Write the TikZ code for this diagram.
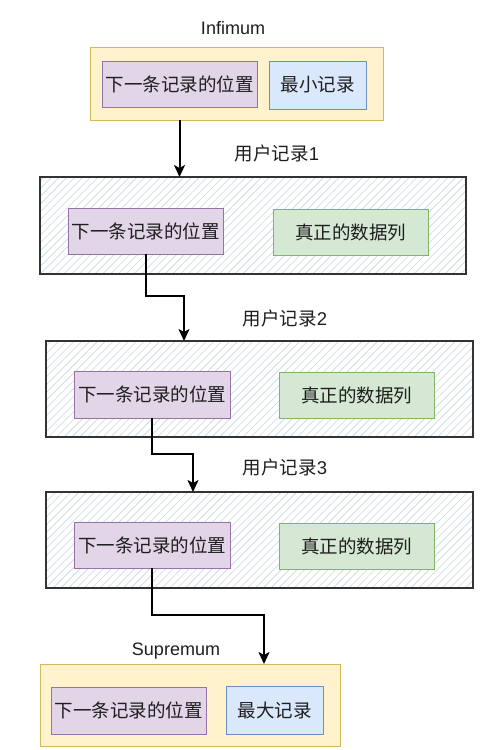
\documentclass[tikz,border=0pt]{standalone}
\usepackage{fontspec}
\setmainfont{Noto Sans CJK SC}
\newfontfamily\latin{Liberation Sans}
\usetikzlibrary{arrows.meta,patterns.meta}

\definecolor{yfill}{HTML}{FFF2CC}
\definecolor{ydraw}{HTML}{D6B656}
\definecolor{pfill}{HTML}{E1D5E7}
\definecolor{pdraw}{HTML}{9673A6}
\definecolor{bfill}{HTML}{DAE8FC}
\definecolor{bdraw}{HTML}{6C8EBF}
\definecolor{gfill}{HTML}{D5E8D4}
\definecolor{gdraw}{HTML}{82B366}
\definecolor{hatchc}{HTML}{C5D8E6}
\definecolor{txt}{HTML}{1E1E1E}

\begin{document}
\begin{tikzpicture}[x=1pt,y=-1pt,
  every node/.style={inner sep=0pt,outer sep=0pt,text=txt,
    font=\fontsize{18.5}{21}\selectfont},
  outerbox/.style={draw=ydraw,fill=yfill,line width=1pt},
  recbox/.style={draw=black!80,line width=1.1pt,
    pattern={Lines[angle=45,distance=5.5pt,line width=0.6pt]},pattern color=hatchc},
  ptrbox/.style={draw=pdraw,fill=pfill,line width=0.8pt},
  minbox/.style={draw=bdraw,fill=bfill,line width=0.8pt},
  databox/.style={draw=gdraw,fill=gfill,line width=0.8pt},
  link/.style={draw=black,line width=2pt,-{Stealth[length=12pt,width=11pt,inset=3pt]}}]

  \useasboundingbox[fill=white] (0,0) rectangle (481,750);

  %% Infimum
  \node[outerbox,minimum width=293pt,minimum height=73pt] (inf) at (236.5,83.5) {};
  \node[ptrbox,minimum width=155pt,minimum height=46pt] (pos0) at (179.5,84) {下一条记录的位置};
  \node[minbox,minimum width=97pt,minimum height=48pt] (min) at (317.5,85) {最小记录};
  \node[font=\latin\fontsize{18}{21}\selectfont] (inflabel) at (233,28) {Infimum};

  %% user records
  \node[recbox,minimum width=426pt,minimum height=97pt] (rec1) at (253,225.5) {};
  \node[ptrbox,minimum width=155pt,minimum height=46pt] (pos1) at (145.5,231) {下一条记录的位置};
  \node[databox,minimum width=155pt,minimum height=46pt] (dat1) at (350.5,232) {真正的数据列};
  \node (lab1) at (277,153) {用户记录{\latin 1}};

  \node[recbox,minimum width=427pt,minimum height=96pt] (rec2) at (259.5,389) {};
  \node[ptrbox,minimum width=156pt,minimum height=47pt] (pos2) at (152,394.5) {下一条记录的位置};
  \node[databox,minimum width=155pt,minimum height=46pt] (dat2) at (356.5,395) {真正的数据列};
  \node (lab2) at (285,318) {用户记录{\latin 2}};

  \node[recbox,minimum width=427pt,minimum height=96pt] (rec3) at (259.5,540) {};
  \node[ptrbox,minimum width=156pt,minimum height=46pt] (pos3) at (152,545) {下一条记录的位置};
  \node[databox,minimum width=155pt,minimum height=46pt] (dat3) at (356.5,546) {真正的数据列};
  \node (lab3) at (285,467) {用户记录{\latin 3}};

  %% Supremum
  \node[outerbox,minimum width=300pt,minimum height=82pt] (sup) at (190,705) {};
  \node[ptrbox,minimum width=155pt,minimum height=47pt] (pos4) at (128.5,710.5) {下一条记录的位置};
  \node[minbox,minimum width=97pt,minimum height=48pt] (max) at (274.5,710) {最大记录};
  \node[font=\latin\fontsize{18}{21}\selectfont] (suplabel) at (176,651) {Supremum};

  %% pointers
  \coordinate (in2) at (184,341);
  \coordinate (in3) at (193,492);
  \coordinate (in4) at (264,664);
  \draw[link] (inf.south -| pos0.south) -- (rec1.north -| pos0.south);
  \draw[link] (pos1.south) -- (pos1.south |- 0,296) -| (in2);
  \draw[link] (pos2.south) -- (pos2.south |- 0,454) -| (in3);
  \draw[link] (pos3.south) -- (pos3.south |- 0,615) -| (in4);

\end{tikzpicture}
\end{document}
